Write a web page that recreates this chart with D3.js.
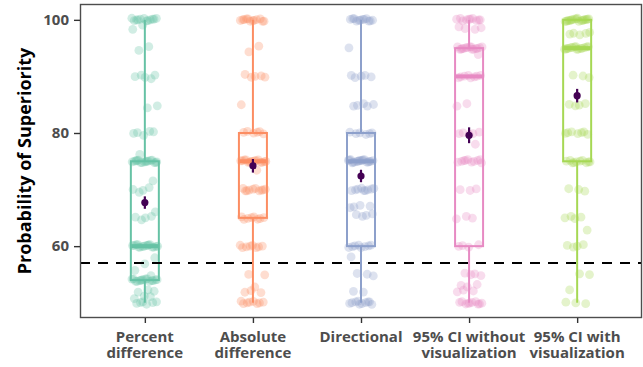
<!DOCTYPE html>
<html>
<head>
<meta charset="utf-8">
<script src="https://cdn.jsdelivr.net/npm/d3@7"></script>
<style>
  body { margin: 0; background: #fff; }
  svg { display: block; font-family: "Open Sans", Lato, sans-serif; }
</style>
</head>
<body>
<div id="chart"></div>
<script>
// categories and colours
const categories = ['Percent difference', 'Absolute difference', 'Directional',
  '95% CI without visualization', '95% CI with visualization'];
const labelLines = [['Percent', 'difference'], ['Absolute', 'difference'], ['Directional'],
  ['95% CI without', 'visualization'], ['95% CI with', 'visualization']];
const colors = ['#66c2a5', '#fc8d62', '#8da0cb', '#e78ac3', '#a6d854'];

// individual responses
const percentDiff = [100,100,100,100,100,100,100,100,100,100,100,100,98.8,98.5,95.3,94.5,
  90,90,90,89.5,90,85,84.5,80,80,79.8,80,80.2,76,
  75,75,75,75,75,75,75,75,75,75,75,75,75,75,75,75,71.8,70,70,70.2,69.8,66.2,65,65,65,64.8,
  60,60,60,60,60,60,60,60,60,60,60,60,60,60,60,60,58,56.8,55.5,55,
  54,54,54,54,54,54,54,54,54,54,54,54,54,54,54,52.5,52,52,51,51,51.2,50,50,50,50,50,50];
const absoluteDiff = [100,100,100,100,100,100,100,100,100,100,100,100,95.2,94.6,
  90,90,90.2,89.8,90,85,80,80,80,80,80,80,
  75,75,75,75,75,75,75,75,75,75,75,75,75,75,75,73.2,70,70,70,70,70,70,70,70,70,70,
  65,65,65,65,65,65,65,65,60,60,60,60,60,60,60,60,55,54.8,52.5,52,51.8,52,
  50,50,50,50,50,50,50,50];
const directional = [100,100,100,100,100,100,100,100,100,100,100,100,95,
  90,90,90,90,90,85,85,85,85,85,80,80,80,80,80,80,
  75,75,75,75,75,75,75,75,75,75,75,75,75,75,75,75,75,75,70,70,70,70,70,70,70,70,70,
  67,67,67,67,65.5,65.5,65.5,65.5,60,60,60,60,60,60,60,60,58.2,55,55,55,52,52,
  50,50,50,50,50,50,50,50,50,50];
const ciNoVis = [100,100,100,100,100,100,100,100,100,100,98.5,98.5,98.5,98.5,
  95,95,95,95,95,95,95,95,95,95,95,95,95,95,95,93.8,90,90,90,90,90,90,90,90,85,85,
  80,80,80,80,80,78,75,75,75,75,75,75,75,75,75,75,70,70,70,65,65,65,60,60,60,60,
  55,55,55,55,53,53,53,52,52,52,50,50,50,50,50,50,50,50,50,50];
const ciVis = [100,100,100,100,100,100,100,100,100,100,100,100,100,100,100,100,100,100,
  97.5,97.5,97.5,97.5,97.5,95,95,95,95,95,95,95,95,95,95,95,95,95,95,95,
  90,90,90,85,85,85,85,80,80,80,80,80,80,80,75,75,75,75,75,75,75,75,75,75,
  70,70,70,65,65,65,65,63,60,60,60,60,55,55,52,50,50,50];
const responses = [percentDiff, absoluteDiff, directional, ciNoVis, ciVis];

// box plot summaries
const q1 = [54, 65, 60, 60, 75];
const medians = [60, 75, 75, 90, 95];
const q3 = [75, 80, 80, 95, 100];
const whiskerLow = [50, 50, 50, 50, 50];
const whiskerHigh = [100, 100, 100, 100, 100];

// means with error bars
const means = [67.7, 74.2, 72.4, 79.6, 86.6];
const errors = [1.1, 1.2, 1.1, 1.4, 1.2];

const yTicks = [60, 80, 100];
const chanceLevel = 57;

const W = 643, H = 367;
const margin = { top: 4, right: 1, bottom: 49, left: 80 };

const svg = d3.select('#chart').append('svg')
  .attr('width', W)
  .attr('height', H);

const x = d3.scalePoint()
  .domain(categories)
  .range([margin.left, W - margin.right])
  .padding(0.6);

const y = d3.scaleLinear()
  .domain([47.3, 102.8])
  .range([H - margin.bottom, margin.top]);

// jittered points (deterministic jitter, px)
const jitterX = 13, jitterY = 1.6;
const frac = v => v - Math.floor(v);
responses.forEach((vals, c) => {
  svg.append('g')
    .selectAll('circle')
    .data(vals)
    .enter()
    .append('circle')
    .attr('cx', (d, i) => x(categories[c]) + (frac(i * 0.6180339887 + c * 0.31) - 0.5) * 2 * jitterX)
    .attr('cy', (d, i) => y(d) + (frac(i * 0.7548776662 + c * 0.17) - 0.5) * 2 * jitterY)
    .attr('r', 4.4)
    .attr('fill', colors[c])
    .attr('fill-opacity', 0.3);
});

// boxes
const boxW = 28;
const boxes = svg.append('g').selectAll('g')
  .data(categories)
  .enter()
  .append('g')
  .attr('stroke', (d, i) => colors[i])
  .attr('fill', 'none');

boxes.append('line')
  .attr('x1', d => x(d)).attr('x2', d => x(d))
  .attr('y1', (d, i) => y(whiskerHigh[i])).attr('y2', (d, i) => y(q3[i]))
  .attr('stroke-width', 2);
boxes.append('line')
  .attr('x1', d => x(d)).attr('x2', d => x(d))
  .attr('y1', (d, i) => y(q1[i])).attr('y2', (d, i) => y(whiskerLow[i]))
  .attr('stroke-width', 2);
boxes.append('rect')
  .attr('x', d => x(d) - boxW / 2)
  .attr('y', (d, i) => y(q3[i]))
  .attr('width', boxW)
  .attr('height', (d, i) => y(q1[i]) - y(q3[i]))
  .attr('stroke-width', 2);
boxes.append('line')
  .attr('x1', d => x(d) - boxW / 2).attr('x2', d => x(d) + boxW / 2)
  .attr('y1', (d, i) => y(medians[i])).attr('y2', (d, i) => y(medians[i]))
  .attr('stroke-width', 4);

// chance line
svg.append('line')
  .attr('x1', margin.left).attr('x2', W - margin.right)
  .attr('y1', y(chanceLevel)).attr('y2', y(chanceLevel))
  .attr('stroke', '#000')
  .attr('stroke-width', 2)
  .attr('stroke-dasharray', '10,8');

// means and error bars
const meanG = svg.append('g').selectAll('g')
  .data(categories)
  .enter()
  .append('g');
meanG.append('line')
  .attr('x1', d => x(d)).attr('x2', d => x(d))
  .attr('y1', (d, i) => y(means[i] + errors[i]))
  .attr('y2', (d, i) => y(means[i] - errors[i]))
  .attr('stroke', '#440154')
  .attr('stroke-width', 2.2);
meanG.append('circle')
  .attr('cx', d => x(d))
  .attr('cy', (d, i) => y(means[i]))
  .attr('r', 3.6)
  .attr('fill', '#440154');

// panel border
svg.append('rect')
  .attr('x', margin.left + 0.5)
  .attr('y', margin.top + 0.5)
  .attr('width', W - margin.left - margin.right - 1)
  .attr('height', H - margin.top - margin.bottom - 1)
  .attr('fill', 'none')
  .attr('stroke', '#4d4d4d')
  .attr('stroke-width', 1.4);

// y axis
const yAxis = svg.append('g')
  .attr('transform', `translate(${margin.left},0)`)
  .call(d3.axisLeft(y).tickValues(yTicks).tickSize(6).tickPadding(5));
yAxis.select('.domain').remove();
yAxis.selectAll('.tick line').attr('stroke', '#333').attr('stroke-width', 1.4);
yAxis.selectAll('.tick text')
  .attr('fill', '#4d4d4d')
  .style('font-size', '15px')
  .style('font-weight', 'bold')
  .style('font-family', '"Open Sans", sans-serif');

// x axis
const xAxis = svg.append('g')
  .attr('transform', `translate(0,${H - margin.bottom})`)
  .call(d3.axisBottom(x).tickSize(5).tickFormat(''));
xAxis.select('.domain').remove();
xAxis.selectAll('.tick line').attr('stroke', '#333').attr('stroke-width', 1.4);

svg.append('g').selectAll('text')
  .data(categories)
  .enter()
  .append('text')
  .attr('text-anchor', 'middle')
  .attr('fill', '#4d4d4d')
  .style('font-size', '15px')
  .style('font-weight', 'bold')
  .each(function (d, i) {
    const t = d3.select(this);
    labelLines[i].forEach((line, k) => {
      t.append('tspan')
        .attr('x', x(d))
        .attr('y', 342 + k * 16)
        .text(line);
    });
  });

// y title
svg.append('text')
  .attr('transform', `translate(31,${(margin.top + H - margin.bottom) / 2}) rotate(-90)`)
  .attr('text-anchor', 'middle')
  .attr('fill', '#000')
  .style('font-size', '18px')
  .style('font-weight', 'bold')
  .text('Probability of Superiority');
</script>
</body>
</html>
